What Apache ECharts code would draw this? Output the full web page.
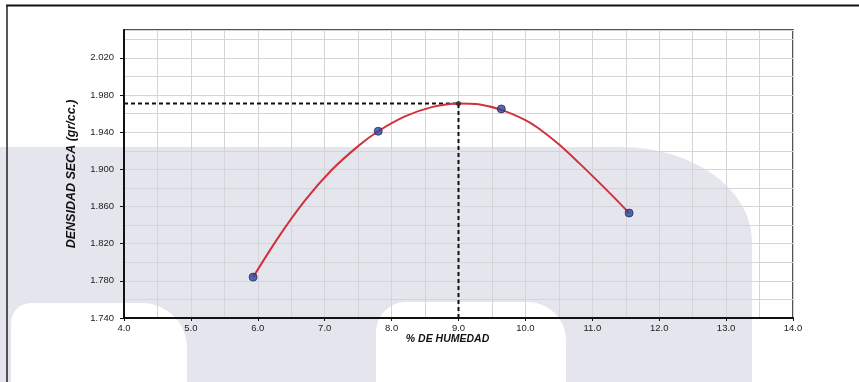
<!DOCTYPE html>
<html>
<head>
<meta charset="utf-8">
<script src="https://cdn.jsdelivr.net/npm/echarts@6/dist/echarts.min.js"></script>
<style>
  html, body { margin: 0; padding: 0; background: #ffffff; }
  #chart { width: 859px; height: 382px; }
</style>
</head>
<body>
<div id="chart"></div>
<script>
// Proctor test: measured points (moisture %, dry density g/cc)
const moisture = [5.93, 7.80, 9.64, 11.55];
const dryDensity = [1.784, 1.941, 1.965, 1.853];

// Compaction curve
const curveMoisture = [5.93, 6.30, 6.70, 7.10, 7.50, 7.80, 8.20, 8.60, 9.00, 9.30, 9.64, 10.00, 10.20, 10.50, 10.80, 11.10, 11.35, 11.55];
const curveDensity  = [1.784, 1.826, 1.866, 1.899, 1.925, 1.941, 1.957, 1.967, 1.971, 1.970, 1.964, 1.953, 1.944, 1.927, 1.907, 1.886, 1.868, 1.853];

// Optimum moisture content and maximum dry density
const optimumMoisture = 9.0;
const maxDryDensity = 1.971;

// Axis ranges
const xRange = [4, 14];
const yRange = [1.74, 2.05];

const pairs = (xs, ys) => xs.map((x, i) => [x, ys[i]]);

// Outline of the pale stamp: a block with one elliptical top-right corner
function stampOutline() {
  const cx = 621, cy = 242, rx = 131, ry = 95;
  const pts = [[0, 147]];
  for (let i = 0; i <= 24; i++) {
    const t = -Math.PI / 2 + (Math.PI / 2) * (i / 24);
    pts.push([cx + rx * Math.cos(t), cy + ry * Math.sin(t)]);
  }
  pts.push([752, 382], [0, 382]);
  return pts;
}

const chart = echarts.init(document.getElementById('chart'), null, { renderer: 'canvas' });

const labelFont = { fontFamily: '"Liberation Sans Narrow", "Liberation Sans", Arial, sans-serif', fontSize: 9.5, color: '#222' };
const titleFont = { fontFamily: '"Liberation Sans", Arial, sans-serif', fontWeight: 'bold', fontStyle: 'italic', color: '#111' };
const gridColor = '#d4d4d9';
const wm = '#e5e5ed';

chart.setOption({
  animation: false,
  backgroundColor: '#ffffff',
  graphic: {
    elements: [
      { type: 'polygon', z: -100, silent: true,
        shape: { points: stampOutline() },
        style: { fill: wm } },
      { type: 'rect', z: -99, silent: true,
        shape: { x: 11, y: 303, width: 176, height: 90, r: [20, 45, 0, 0] },
        style: { fill: '#ffffff' } },
      { type: 'rect', z: -99, silent: true,
        shape: { x: 376, y: 302, width: 190, height: 90, r: [30, 38, 0, 0] },
        style: { fill: '#ffffff' } },
      // sheet frame lines
      { type: 'line', z: 100, silent: true,
        shape: { x1: 6, y1: 5.5, x2: 859, y2: 5.5 },
        style: { stroke: '#111', lineWidth: 2 } },
      { type: 'line', z: 100, silent: true,
        shape: { x1: 7, y1: 5, x2: 7, y2: 382 },
        style: { stroke: '#222', lineWidth: 1.5 } }
    ]
  },
  grid: {
    left: 124, right: 66, top: 30, bottom: 64,
    show: true, borderColor: '#1a1a1a', borderWidth: 1.5, backgroundColor: 'transparent'
  },
  xAxis: {
    type: 'value', min: xRange[0], max: xRange[1], interval: 1,
    name: '% DE HUMEDAD', nameLocation: 'middle', nameGap: 15.5, nameMoveOverlap: false,
    nameTextStyle: Object.assign({ fontSize: 10.5, padding: [0, 22, 0, 0] }, titleFont),
    axisLine: { show: true, onZero: false, lineStyle: { color: '#111', width: 2 } },
    axisTick: { show: true, length: 3, lineStyle: { color: '#111' } },
    axisLabel: Object.assign({ margin: 5, formatter: v => v.toFixed(1) }, labelFont),
    splitLine: { show: true, lineStyle: { color: gridColor, width: 1 } },
    minorTick: { show: false, splitNumber: 2 },
    minorSplitLine: { show: true, lineStyle: { color: gridColor, width: 1 } }
  },
  yAxis: {
    type: 'value', min: yRange[0], max: yRange[1], interval: 0.04,
    name: 'DENSIDAD SECA (gr/cc.)', nameLocation: 'middle', nameGap: 46, nameMoveOverlap: false,
    nameTextStyle: Object.assign({ fontSize: 12.5 }, titleFont),
    axisLine: { show: true, onZero: false, lineStyle: { color: '#111', width: 2 } },
    axisTick: { show: true, length: 4, lineStyle: { color: '#111' } },
    axisLabel: Object.assign({ margin: 10, showMaxLabel: false, formatter: v => v.toFixed(3) }, labelFont),
    splitLine: { show: true, lineStyle: { color: gridColor, width: 1 } },
    minorTick: { show: false, splitNumber: 2 },
    minorSplitLine: { show: true, lineStyle: { color: gridColor, width: 1 } }
  },
  series: [
    {
      name: 'optimo-h', type: 'line', silent: true, symbol: 'none', z: 3,
      data: [[xRange[0], maxDryDensity], [optimumMoisture, maxDryDensity]],
      lineStyle: { color: '#111', width: 2, type: [4, 3] }
    },
    {
      name: 'optimo-v', type: 'line', silent: true, symbol: 'none', z: 3,
      data: [[optimumMoisture, yRange[0]], [optimumMoisture, maxDryDensity]],
      lineStyle: { color: '#111', width: 2, type: [4, 3] }
    },
    {
      name: 'curva', type: 'line', smooth: 0.3, symbol: 'none', z: 4,
      data: pairs(curveMoisture, curveDensity),
      lineStyle: { color: '#d0323c', width: 2 }
    },
    {
      name: 'ensayos', type: 'scatter', z: 5, symbol: 'circle', symbolSize: 8,
      data: pairs(moisture, dryDensity),
      itemStyle: { color: '#2f4496', borderColor: '#1f2d6e', borderWidth: 1 }
    },
    {
      name: 'maximo', type: 'scatter', z: 5, symbol: 'circle', symbolSize: 5,
      data: [[optimumMoisture, maxDryDensity]],
      itemStyle: { color: '#222' }
    }
  ]
});
</script>
</body>
</html>
